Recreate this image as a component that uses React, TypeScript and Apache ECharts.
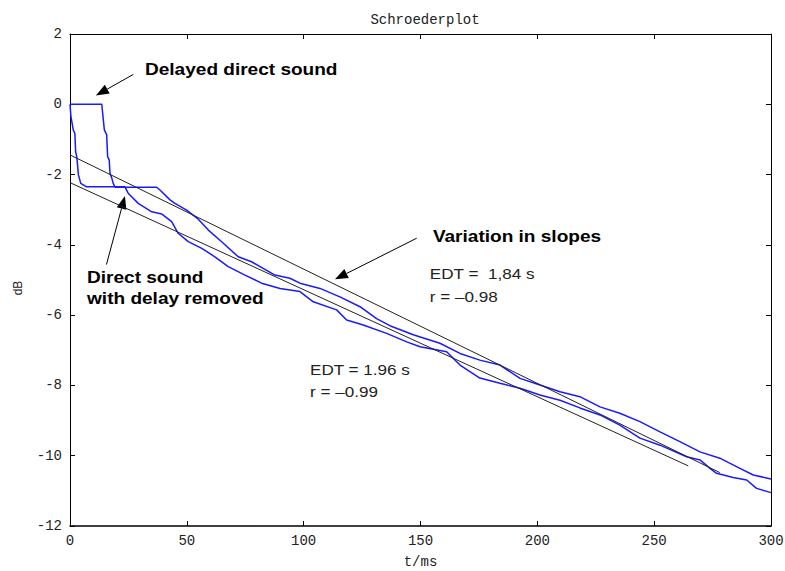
import React, { useEffect, useRef } from 'react';
import * as echarts from 'echarts';

// Schroeder curve with delayed direct sound (ms, dB)
const delayedTime = [0, 13.6, 14.2, 14.7, 15.7, 16.1, 16.8, 17.1, 17.8, 18.5, 19.3, 37.1, 38.5, 42.8, 44.9, 49.9, 54.9, 59.2, 64.9, 72.0, 77.7, 87.7, 94.1, 98.4, 107.0, 115.5, 124.1, 131.2, 136.9, 146.9, 158.3, 166.9, 175.4, 184.0, 192.6, 201.1, 209.7, 218.2, 226.8, 235.3, 243.9, 252.5, 261.0, 269.6, 278.1, 286.7, 292.4, 300];
const delayedDb = [0, 0, -0.4, -0.73, -0.87, -1.49, -1.59, -1.96, -2.08, -2.25, -2.36, -2.36, -2.44, -2.72, -2.82, -3.01, -3.27, -3.58, -3.91, -4.34, -4.48, -4.86, -4.95, -5.09, -5.24, -5.48, -5.76, -6.1, -6.3, -6.56, -6.8, -7.09, -7.28, -7.42, -7.8, -7.99, -8.18, -8.32, -8.61, -8.79, -9.03, -9.32, -9.6, -9.89, -10.07, -10.36, -10.55, -10.66];

// Schroeder curve with the delay removed (ms, dB)
const removedTime = [0, 0.4, 1.4, 2.1, 2.4, 2.9, 3.6, 4.6, 7.1, 23.5, 24.9, 29.2, 35.0, 39.2, 43.5, 46.3, 50.6, 56.4, 62.0, 67.7, 74.9, 82.0, 89.9, 98.4, 104.1, 114.1, 118.4, 125.5, 135.5, 144.1, 149.8, 161.2, 166.9, 175.4, 184.0, 192.6, 201.1, 209.7, 218.2, 226.8, 235.3, 243.9, 252.5, 263.9, 269.6, 273.9, 276.7, 283.8, 289.6, 293.8, 300];
const removedDb = [0, -0.35, -0.73, -0.83, -1.35, -1.49, -2.01, -2.25, -2.35, -2.35, -2.53, -2.82, -3.06, -3.12, -3.34, -3.67, -3.91, -4.1, -4.34, -4.62, -4.86, -5.09, -5.24, -5.33, -5.62, -5.85, -6.14, -6.28, -6.52, -6.76, -6.9, -7.04, -7.42, -7.79, -7.94, -8.08, -8.27, -8.42, -8.64, -8.84, -9.13, -9.5, -9.7, -10.03, -10.12, -10.36, -10.5, -10.62, -10.69, -10.93, -11.05];

// Regression lines
const fitSteepTime = [0, 278.1];
const fitSteepDb = [-1.44, -10.48];
const fitShallowTime = [0, 264.6];
const fitShallowDb = [-2.23, -10.29];

// Axes
const xMin = 0, xMax = 300, xStep = 50;
const yMin = -12, yMax = 2, yStep = 2;

const titleText = 'Schroederplot';
const xName = 't/ms';
const yName = 'dB';

// Annotations (anchors in data units)
const boldLabels = [
  { text: 'Delayed direct sound', t: 32.1, db: 0.98 },
  { text: 'Direct sound', t: 7.3, db: -4.92 },
  { text: 'with delay removed', t: 7.3, db: -5.54 },
  { text: 'Variation in slopes', t: 155.3, db: -3.75 },
];
const plainLabels = [
  { text: 'EDT =  1,84 s', t: 154.0, db: -4.8 },
  { text: 'r = –0.98', t: 154.0, db: -5.46 },
  { text: 'EDT = 1.96 s', t: 102.7, db: -7.53 },
  { text: 'r = –0.99', t: 102.7, db: -8.16 },
];
const arrows = [
  { from: [27.1, 0.85], to: [11.1, 0.25] },
  { from: [15.6, -4.56], to: [23.5, -2.61] },
  { from: [148.4, -3.81], to: [113.4, -4.98] },
];

const zip = (a: number[], b: number[]) => a.map((v, i) => [v, b[i]]);

const monoFont = '"Liberation Mono", "Courier New", monospace';
const sansFont = '"Liberation Sans", Arial, sans-serif';

export default function App() {
  const ref = useRef<HTMLDivElement>(null);
  useEffect(() => {
    document.body.style.margin = '0';
    const chart = echarts.init(ref.current!, null, { renderer: 'svg' });
    const axisCommon = {
      axisLine: { show: true, onZero: false, lineStyle: { color: '#000', width: 1 } },
      axisTick: { show: true, inside: true, length: 5, lineStyle: { color: '#000' } },
      splitLine: { show: false },
    };
    chart.setOption({
      animation: false,
      backgroundColor: '#fff',
      title: {
        text: titleText,
        left: 420,
        top: 8,
        textAlign: 'center',
        textStyle: { fontFamily: monoFont, fontWeight: 'normal', fontSize: 14, color: '#222' },
      },
      grid: { left: 70, right: 14, top: 34, bottom: 45, containLabel: false, outerBoundsMode: 'none' },
      xAxis: [
        {
          type: 'value', position: 'bottom', min: xMin, max: xMax, interval: xStep,
          ...axisCommon,
          axisLine: { show: true, onZero: false, lineStyle: { color: '#000', width: 1.5 } },
          axisLabel: { fontFamily: monoFont, fontSize: 14, color: '#222', margin: 8 },
          name: xName, nameLocation: 'middle', nameGap: 29,
          nameTextStyle: { fontFamily: monoFont, fontSize: 14, color: '#222' },
        },
        {
          type: 'value', position: 'top', min: xMin, max: xMax, interval: xStep,
          ...axisCommon, axisLabel: { show: false },
        },
      ],
      yAxis: [
        {
          type: 'value', position: 'left', min: yMin, max: yMax, interval: yStep,
          ...axisCommon,
          axisLabel: { fontFamily: monoFont, fontSize: 14, color: '#222', margin: 8 },
          name: yName, nameLocation: 'middle', nameGap: 46, nameRotate: 90,
          nameTextStyle: { fontFamily: sansFont, fontSize: 12, color: '#222', padding: [0, 16, 0, 0] },
        },
        {
          type: 'value', position: 'right', min: yMin, max: yMax, interval: yStep,
          ...axisCommon, axisLabel: { show: false },
        },
      ],
      series: [
        { type: 'line', name: 'delayed', data: zip(delayedTime, delayedDb), showSymbol: false, symbol: 'none', lineStyle: { color: '#1a1aff', width: 1.5 } },
        { type: 'line', name: 'removed', data: zip(removedTime, removedDb), showSymbol: false, symbol: 'none', lineStyle: { color: '#1a1aff', width: 1.5 } },
        { type: 'line', name: 'fit184', data: zip(fitSteepTime, fitSteepDb), showSymbol: false, symbol: 'none', lineStyle: { color: '#222', width: 1 } },
        { type: 'line', name: 'fit196', data: zip(fitShallowTime, fitShallowDb), showSymbol: false, symbol: 'none', lineStyle: { color: '#222', width: 1 } },
      ],
    });

    const px = (t: number, db: number) => chart.convertToPixel({ gridIndex: 0 }, [t, db]) as number[];
    const elements: any[] = [];
    boldLabels.forEach((l) => {
      const [x, y] = px(l.t, l.db);
      elements.push({
        type: 'text', x, y, scaleX: 1.19,
        style: { text: l.text, fontFamily: sansFont, fontWeight: 'bold', fontSize: 16, fill: '#000', align: 'left', verticalAlign: 'middle' },
      });
    });
    plainLabels.forEach((l) => {
      const [x, y] = px(l.t, l.db);
      elements.push({
        type: 'text', x, y, scaleX: 1.14,
        style: { text: l.text, fontFamily: sansFont, fontSize: 15, fill: '#222', align: 'left', verticalAlign: 'middle' },
      });
    });
    arrows.forEach((a) => {
      const [x0, y0] = px(a.from[0], a.from[1]);
      const [x1, y1] = px(a.to[0], a.to[1]);
      const dx = x1 - x0, dy = y1 - y0;
      const len = Math.hypot(dx, dy);
      const ux = dx / len, uy = dy / len;
      const L = 13, W = 10;
      const bx = x1 - ux * L, by = y1 - uy * L;
      const nx = -uy, ny = ux;
      elements.push({ type: 'line', shape: { x1: x0, y1: y0, x2: bx, y2: by }, style: { stroke: '#000', lineWidth: 1 } });
      elements.push({
        type: 'polygon',
        shape: { points: [[x1, y1], [bx + nx * W / 2, by + ny * W / 2], [bx - nx * W / 2, by - ny * W / 2]] },
        style: { fill: '#000' },
      });
    });
    chart.setOption({ graphic: elements });
    return () => chart.dispose();
  }, []);
  return <div ref={ref} style={{ width: 785, height: 571 }} />;
}
